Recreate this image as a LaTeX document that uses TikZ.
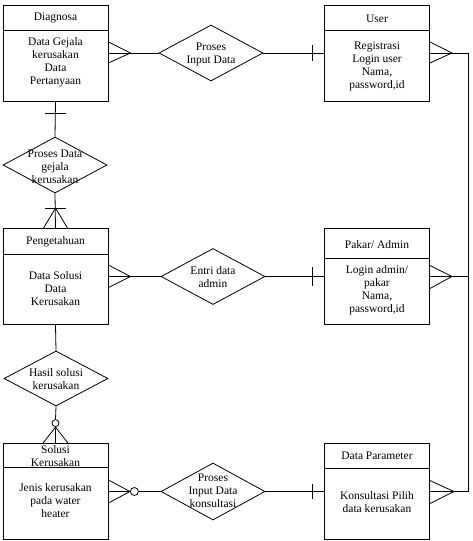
\documentclass[tikz,border=0pt]{standalone}
\usepackage{fontspec}
\setmainfont{Liberation Serif}
\usetikzlibrary{shapes.geometric,calc}
\begin{document}
\begin{tikzpicture}[x=1pt,y=-1pt,line width=0.8pt,
  ent/.style={draw, rectangle, inner sep=0, minimum width=105pt, minimum height=96pt},
  rel/.style={draw, diamond, inner sep=0, minimum width=104pt, minimum height=56pt},
  lbl/.style={inner sep=0, align=center, font=\fontsize{11.5}{13}\selectfont},
  ring/.style={draw, circle, fill=white, inner sep=0, minimum size=#1},
]
\useasboundingbox (0,0) rectangle (472,541);

% entities
\node[ent] (diag)  at (55.5,53) {};
\node[ent] (user)  at (377,53) {};
\node[ent] (peng)  at (55.5,276.5) {};
\node[ent] (pakar) at (377,276.5) {};
\node[ent] (sol)   at (55.5,491.5) {};
\node[ent] (dpar)  at (377,491.5) {};

% header dividers
\draw ($(diag.north west)+(0,26)$) -- ($(diag.north east)+(0,26)$);
\draw ($(user.north west)+(0,26)$) -- ($(user.north east)+(0,26)$);
\draw ($(peng.north west)+(0,26)$) -- ($(peng.north east)+(0,26)$);
\draw ($(pakar.north west)+(0,30)$) -- ($(pakar.north east)+(0,30)$);
\draw ($(sol.north west)+(0,24)$) -- ($(sol.north east)+(0,24)$);
\draw ($(dpar.north west)+(0,25)$) -- ($(dpar.north east)+(0,25)$);

% texts
\node[lbl] (diagh) at (55.5,18) {Diagnosa};
\node[lbl] (diagb) at (55.5,62) {Data Gejala\\kerusakan\\Data\\Pertanyaan};
\node[lbl] (userh) at (377,19) {User};
\node[lbl] (userb) at (377,66) {Registrasi\\Login user\\Nama,\\password,id};
\node[lbl] (pengh) at (55.5,242) {Pengetahuan};
\node[lbl] (pengb) at (55.5,289) {Data Solusi\\Data\\Kerusakan};
\node[lbl] (pakarh) at (377,245) {Pakar/ Admin};
\node[lbl] (pakarb) at (377,290) {Login admin/\\pakar\\Nama,\\password,id};
\node[lbl] (solh) at (55.5,456.5) {Solusi\\Kerusakan};
\node[lbl] (solb) at (55.5,501) {Jenis kerusakan\\pada water\\heater};
\node[lbl] (dparh) at (377,456) {Data Parameter};
\node[lbl] (dparb) at (377,502) {Konsultasi Pilih\\data kerusakan};

% relationships
\node[rel] (d1) at (211,53) {};
\node[lbl] (d1t) at (211,54) {Proses\\Input Data};
\node[rel] (d2) at (55,165) {};
\node[lbl] (d2t) at (55,167) {Proses Data\\gejala\\kerusakan};
\node[rel] (d3) at (213,276.5) {};
\node[lbl] (d3t) at (213,277) {Entri data\\admin};
\node[rel, minimum height=55pt] (d4) at (56,378.5) {};
\node[lbl] (d4t) at (56,379) {Hasil solusi\\kerusakan};
\node[rel, minimum height=57pt] (d5) at (213,491.5) {};
\node[lbl] (d5t) at (213,491) {Proses\\Input Data\\konsultasi};

% Diagnosa -- Proses Input Data -- User
\draw (diag.east) -- (d1.west);
\draw ($(diag.east)+(0,-11)$) -- ($(diag.east)+(22,0)$) -- ($(diag.east)+(0,10)$);
\draw (d1.east) -- (user.west);
\draw ($(user.west)+(-12,-8)$) -- ($(user.west)+(-12,8)$);

% right rail
\coordinate (rail) at (468,0);
\draw ($(user.east)+(0,-11)$) -- ($(user.east)+(22,0)$) -- ($(user.east)+(0,10)$);
\draw (user.east) -- (user.east -| rail) -- (dpar.east -| rail) -- (dpar.east);
\draw ($(pakar.east)+(0,-11)$) -- ($(pakar.east)+(22,0)$) -- ($(pakar.east)+(0,12)$);
\draw (pakar.east) -- (pakar.east -| rail);
\draw ($(dpar.east)+(0,-11)$) -- ($(dpar.east)+(24,0)$) -- ($(dpar.east)+(0,12)$);

% Diagnosa -- Proses Data gejala -- Pengetahuan
\draw (diag.south) -- (d2.north);
\draw ($(diag.south)+(-11,12)$) -- ($(diag.south)+(10,12)$);
\draw (d2.south) -- (peng.north);
\draw ($(peng.north)+(-10.5,-20)$) -- ($(peng.north)+(10.5,-20)$);
\draw ($(peng.north)+(-12,0)$) -- ($(peng.north)+(0,-20)$) -- ($(peng.north)+(12,0)$);

% Pengetahuan -- Entri data admin -- Pakar
\draw (peng.east) -- (d3.west);
\draw ($(peng.east)+(0,-11.5)$) -- ($(peng.east)+(22,0)$) -- ($(peng.east)+(0,11)$);
\draw (d3.east) -- (pakar.west);
\draw ($(pakar.west)+(-12,-9.5)$) -- ($(pakar.west)+(-12,9.5)$);

% Pengetahuan -- Hasil solusi -- Solusi
\draw (peng.south) -- (d4.north);
\node[ring=7pt] (c1) at ($(sol.north)+(0,-20)$) {};
\draw (d4.south) -- (c1.north);
\draw (c1.south) -- (sol.north);
\draw ($(sol.north)+(-12.5,0)$) -- ($(sol.north)+(0,-16)$) -- ($(sol.north)+(12.5,0)$);

% Solusi -- Proses Input Data konsultasi -- Data Parameter
\node[ring=8pt] (c2) at ($(sol.east)+(26,0)$) {};
\draw (sol.east) -- (c2.west);
\draw ($(sol.east)+(0,-11.5)$) -- (c2.west) -- ($(sol.east)+(0,11.5)$);
\draw (c2.east) -- (d5.west);
\draw (d5.east) -- (dpar.west);
\draw ($(dpar.west)+(-12,-7.5)$) -- ($(dpar.west)+(-12,7.5)$);
\end{tikzpicture}
\end{document}
